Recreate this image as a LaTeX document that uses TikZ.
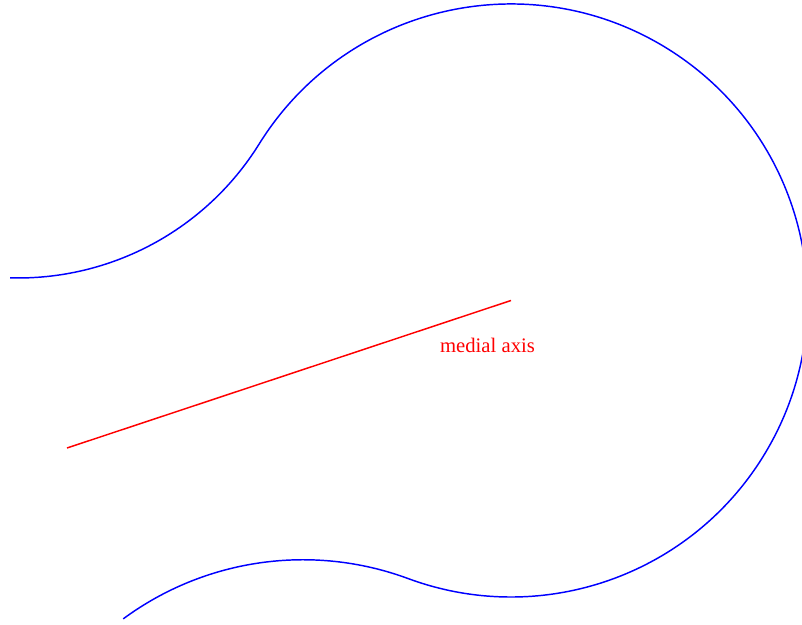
\documentclass[tikz,border=0pt]{standalone}
\usepackage{fontspec}
\setmainfont{Liberation Serif}
\usepackage{tikz}
\tikzset{
  outline/.style={draw=blue, line width=1.1pt},
  axisline/.style={draw=red, line width=1.1pt},
  axislabel/.style={text=red, font=\fontsize{15.5}{18}\selectfont, inner sep=0pt},
}
\begin{document}
\begin{tikzpicture}[x=0.75pt, y=0.75pt]
  \useasboundingbox (0,0) rectangle (802,624);

  % --- centres of the three arcs ---
  \coordinate (disc)  at (511,323.5);
  \coordinate (upper) at (18,630);
  \coordinate (lower) at (303,-239);

  % --- boundary of the shape ---
  \draw[outline] (upper) ++(-91.6:284)
    arc[start angle=-91.6, end angle=-31.87, radius=284]
    arc[start angle=148.13, end angle=-110.3, radius=296.5]
    arc[start angle=69.7, end angle=126.4, radius=303];

  % --- medial axis ---
  \coordinate (tip) at (67,176);
  \draw[axisline] (tip) -- (disc);
  \node[axislabel] (axislbl) at (487.5,278.5) {medial axis};

\end{tikzpicture}
\end{document}
